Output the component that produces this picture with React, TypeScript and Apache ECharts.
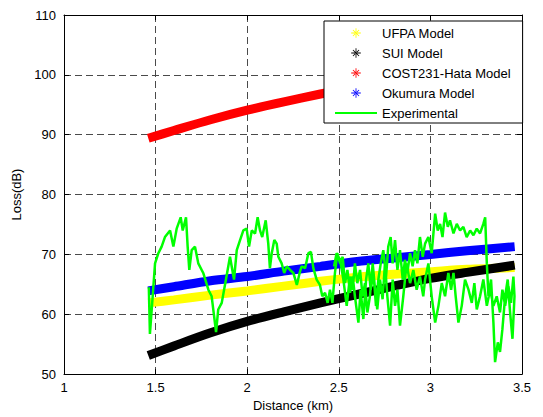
import React, { useEffect, useRef } from "react";
import * as echarts from "echarts";

// ---- data ----
const distances = [1.46, 1.6, 1.8, 2.0, 2.2, 2.4, 2.6, 2.8, 3.0, 3.2, 3.46];
const ufpaLoss = [61.9, 62.4, 63.2, 63.9, 64.7, 65.5, 66.2, 66.7, 67.1, 67.5, 67.8];
const suiLoss = [53.1, 54.7, 56.9, 58.8, 60.4, 61.9, 63.3, 64.7, 66.0, 67.0, 68.2];
const cost231Loss = [89.4, 90.7, 92.5, 94.1, 95.5, 96.8, 98.0, 99.1, 100.1, 101.1, 102.3];
const okumuraLoss = [63.9, 64.6, 65.6, 66.3, 67.2, 68.0, 68.8, 69.4, 70.0, 70.6, 71.3];

const expDistance = [
  1.463, 1.469, 1.484, 1.497, 1.515, 1.533, 1.551, 1.579, 1.597, 1.615, 1.637, 1.648,
  1.666, 1.675, 1.684, 1.697, 1.715, 1.733, 1.76, 1.788, 1.806, 1.83, 1.842, 1.861,
  1.884, 1.906, 1.928, 1.943, 1.961, 1.979, 1.997, 2.01, 2.025, 2.043, 2.057, 2.07,
  2.082, 2.101, 2.115, 2.124, 2.134, 2.148, 2.161, 2.17, 2.188, 2.202, 2.216, 2.234,
  2.252, 2.271, 2.288, 2.297, 2.316, 2.334, 2.348, 2.361, 2.379, 2.397, 2.41, 2.425,
  2.439, 2.452, 2.465, 2.479, 2.492, 2.507, 2.521, 2.534, 2.547, 2.561, 2.576, 2.588,
  2.607, 2.619, 2.634, 2.649, 2.661, 2.674, 2.689, 2.703, 2.716, 2.729, 2.743, 2.758,
  2.77, 2.783, 2.794, 2.807, 2.82, 2.834, 2.849, 2.861, 2.874, 2.889, 2.903, 2.916,
  2.929, 2.943, 2.958, 2.971, 2.989, 3.007, 3.026, 3.04, 3.053, 3.066, 3.08, 3.095,
  3.107, 3.126, 3.144, 3.162, 3.18, 3.198, 3.217, 3.235, 3.253, 3.271, 3.289, 3.299,
  3.308, 3.317, 3.331, 3.344, 3.353, 3.368, 3.38, 3.393, 3.408, 3.422, 3.435, 3.448,
  3.459,
  3.453, 3.44, 3.426, 3.408, 3.393, 3.38, 3.362, 3.344, 3.326, 3.308, 3.289, 3.271,
  3.253, 3.24, 3.226, 3.208, 3.189, 3.171, 3.153, 3.138, 3.126, 3.113, 3.098, 3.08,
  3.062, 3.044, 3.026, 3.007, 2.989, 2.971, 2.961, 2.943, 2.925, 2.907, 2.889, 2.87,
  2.852, 2.834, 2.82, 2.807, 2.794, 2.78, 2.765, 2.752, 2.739, 2.725, 2.71, 2.698,
  2.685, 2.67, 2.656, 2.643, 2.63, 2.616, 2.601, 2.588, 2.576, 2.561, 2.543, 2.525,
  2.507, 2.488, 2.474,
];
const expLoss = [
  64.5, 56.7, 63.0, 68.5, 70.2, 71.3, 72.9, 74.0, 71.3, 74.3, 76.2, 74.0,
  76.2, 71.3, 67.4, 70.7, 71.3, 68.5, 66.9, 64.1, 63.0, 57.0, 60.8, 61.9,
  65.8, 69.6, 65.8, 70.7, 72.4, 74.0, 74.3, 71.3, 74.0, 73.5, 76.2, 74.0,
  72.9, 75.7, 71.8, 67.7, 70.2, 72.4, 71.8, 69.6, 68.5, 66.9, 68.0, 67.4,
  66.9, 64.9, 67.1, 68.0, 67.7, 70.2, 70.4, 67.7, 65.8, 64.9, 63.0, 63.6,
  61.9, 64.1, 61.9, 66.9, 70.2, 68.5, 69.6, 65.2, 67.4, 63.6, 66.3, 63.0,
  58.6, 64.1, 59.2, 65.8, 68.5, 64.1, 66.9, 61.4, 65.8, 68.5, 70.7, 66.3,
  71.3, 72.9, 68.5, 72.4, 67.4, 70.7, 65.8, 69.1, 66.9, 70.2, 68.0, 70.7,
  68.5, 72.9, 69.6, 71.8, 72.9, 70.2, 76.8, 74.0, 75.1, 72.9, 77.0, 74.6,
  75.7, 73.5, 75.1, 74.0, 74.6, 72.9, 74.0, 73.2, 74.3, 73.5, 75.1, 76.2,
  68.5, 63.0, 65.8, 58.6, 52.0, 55.3, 53.7, 57.5, 63.0, 65.8, 60.3, 55.9,
  63.0,
  66.3, 61.9, 64.7, 61.4, 64.1, 60.3, 63.0, 61.4, 64.1, 61.4, 65.8, 63.0,
  60.8, 65.2, 61.9, 64.1, 65.8, 61.4, 58.6, 63.0, 66.9, 64.1, 66.9, 63.0,
  65.2, 61.4, 58.6, 63.0, 68.5, 65.8, 63.0, 66.3, 64.1, 67.4, 65.2, 68.5,
  63.0, 58.1, 64.1, 61.4, 65.8, 58.1, 63.0, 68.5, 62.5, 65.8, 60.8, 64.1,
  68.5, 63.0, 60.3, 65.2, 63.0, 67.4, 65.2, 68.5, 64.1, 66.3, 61.4, 65.8,
  69.1, 70.2, 68.0,
];

const xTickLabels = ["1", "1.5", "2", "2.5", "3", "3.5"];
const yTickLabels = ["50", "60", "70", "80", "90", "100", "110"];
const seriesNames = ["UFPA Model", "SUI Model", "COST231-Hata Model", "Okumura Model", "Experimental"];

const FONT = "Liberation Sans, Arial, Helvetica, sans-serif";
const ASTERISK =
  "path://M4.55,0H5.45V10H4.55Z M0,4.55H10V5.45H0Z M1.5,2.15L2.15,1.5L8.5,7.85L7.85,8.5Z M8.5,2.15L7.85,1.5L1.5,7.85L2.15,8.5Z";

function zip(xs: number[], ys: number[]) {
  return xs.map((x, i) => [x, ys[i]]);
}

export default function App() {
  const ref = useRef<HTMLDivElement>(null);
  useEffect(() => {
    if (!ref.current) return;
    const chart = echarts.init(ref.current, undefined, { renderer: "svg" });
    const splitLine = {
      show: true,
      showMinLine: false,
      showMaxLine: false,
      lineStyle: { color: "#4a4a4a", type: [7, 4], width: 1 },
    };
    const axisLine = { show: true, onZero: false, lineStyle: { color: "#000", width: 1 } };
    const axisTick = { show: true, inside: true, length: 5, lineStyle: { color: "#000", width: 1 } };
    const modelSeries = (name: string, vals: number[], color: string) => ({
      name,
      type: "line",
      data: zip(distances, vals),
      showSymbol: false,
      symbol: ASTERISK,
      symbolSize: 9,
      smooth: 0.3,
      lineStyle: { width: 9, color },
      itemStyle: { color },
      emphasis: { disabled: true },
    });
    chart.setOption({
      animation: false,
      backgroundColor: "#fff",
      grid: { left: 64, right: 21, top: 15, bottom: 38, containLabel: false },
      legend: {
        orient: "vertical",
        left: 324,
        top: 21,
        backgroundColor: "#fff",
        borderColor: "#000",
        borderWidth: 1,
        borderRadius: 0,
        padding: [5, 12, 3, 10],
        itemWidth: 42,
        itemHeight: 12,
        itemGap: 6,
        selectedMode: false,
        textStyle: { color: "#000", fontSize: 13, fontFamily: FONT, lineHeight: 14 },
        data: [
          { name: seriesNames[0], lineStyle: { opacity: 0 } },
          { name: seriesNames[1], lineStyle: { opacity: 0 } },
          { name: seriesNames[2], lineStyle: { opacity: 0 } },
          { name: seriesNames[3], lineStyle: { opacity: 0 } },
          { name: seriesNames[4], itemStyle: { opacity: 0 } },
        ],
      },
      xAxis: [
        {
          type: "value",
          position: "bottom",
          min: 1,
          max: 3.5,
          interval: 0.5,
          axisLine,
          axisTick,
          splitLine,
          axisLabel: {
            color: "#000",
            fontSize: 13,
            fontFamily: FONT,
            margin: 7,
            formatter: (_v: number, i: number) => xTickLabels[i],
          },
          name: "Distance (km)",
          nameLocation: "middle",
          nameGap: 21,
          nameTextStyle: { color: "#000", fontSize: 13, fontFamily: FONT },
        },
        {
          type: "value",
          position: "top",
          min: 1,
          max: 3.5,
          interval: 0.5,
          axisLine,
          axisTick,
          splitLine: { show: false },
          axisLabel: { show: false },
        },
      ],
      yAxis: [
        {
          type: "value",
          position: "left",
          min: 50,
          max: 110,
          interval: 10,
          axisLine,
          axisTick,
          splitLine,
          axisLabel: {
            color: "#000",
            fontSize: 13,
            fontFamily: FONT,
            margin: 8,
            formatter: (_v: number, i: number) => yTickLabels[i],
          },
          name: "Loss(dB)",
          nameLocation: "middle",
          nameGap: 30,
          nameRotate: 90,
          nameTextStyle: { color: "#000", fontSize: 13, fontFamily: FONT },
        },
        {
          type: "value",
          position: "right",
          min: 50,
          max: 110,
          interval: 10,
          axisLine,
          axisTick,
          splitLine: { show: false },
          axisLabel: { show: false },
        },
      ],
      series: [
        modelSeries(seriesNames[0], ufpaLoss, "#ffff00"),
        modelSeries(seriesNames[1], suiLoss, "#000000"),
        modelSeries(seriesNames[2], cost231Loss, "#ff0000"),
        modelSeries(seriesNames[3], okumuraLoss, "#0000ff"),
        {
          name: seriesNames[4],
          type: "line",
          data: zip(expDistance, expLoss),
          showSymbol: false,
          symbol: "none",
          lineStyle: { width: 2.5, color: "#00ff00" },
          itemStyle: { color: "#00ff00" },
          emphasis: { disabled: true },
        },
      ],
    });
    return () => chart.dispose();
  }, []);
  return (
    <div
      ref={ref}
      style={{ position: "fixed", left: 0, top: 0, width: 543, height: 417, background: "#fff" }}
    />
  );
}
